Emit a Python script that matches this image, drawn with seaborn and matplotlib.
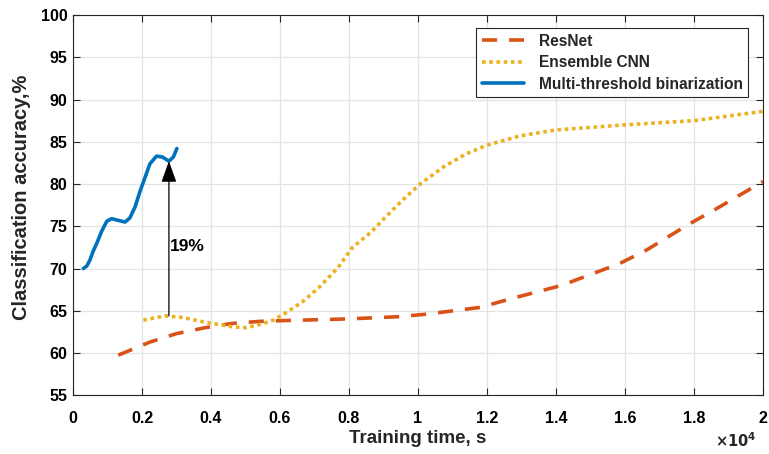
import numpy as np
import pandas as pd
import matplotlib
matplotlib.use("Agg")
import matplotlib.pyplot as plt
import seaborn as sns

# ---- data (seconds, accuracy %) ----
resnet_x = [1310, 2230, 3000, 3830, 4600, 5420, 6190, 7640, 8030, 9430, 10250, 11020,
            11800, 12760, 14160, 15850, 16630, 17790, 18660, 20000]
resnet_y = [59.75, 61.3, 62.3, 63.0, 63.5, 63.75, 63.85, 64.0, 64.05, 64.3, 64.6, 65.0,
            65.4, 66.5, 68.0, 70.6, 72.2, 75.1, 77.1, 80.3]

ens_x = [2040, 2670, 3200, 3880, 4650, 5030, 5520, 5810, 6170, 6680, 7140, 7680, 8100,
         8640, 9060, 9630, 10080, 10730, 11410, 12000, 12960, 14000, 16000, 18000, 20000]
ens_y = [63.9, 64.4, 64.2, 63.6, 63.1, 63.0, 63.5, 63.9, 64.76, 66.15, 67.8, 70.1, 72.5,
         74.3, 76.1, 78.4, 80.06, 82.0, 83.6, 84.6, 85.7, 86.4, 87.0, 87.5, 88.6]

mtb_x = [300, 400, 490, 590, 690, 830, 980, 1120, 1310, 1510, 1650, 1800, 1940, 2090,
         2230, 2420, 2590, 2780, 2910, 3010]
mtb_y = [70.0, 70.3, 71.0, 72.1, 73.0, 74.4, 75.6, 75.9, 75.7, 75.5, 76.0, 77.3, 79.1,
         80.8, 82.4, 83.3, 83.2, 82.7, 83.2, 84.2]

x_ticks = [0, 2000, 4000, 6000, 8000, 10000, 12000, 14000, 16000, 18000, 20000]
x_tick_labels = ["0", "0.2", "0.4", "0.6", "0.8", "1", "1.2", "1.4", "1.6", "1.8", "2"]
y_ticks = [55, 60, 65, 70, 75, 80, 85, 90, 95, 100]

arrow_x = 2780
arrow_from = 64.4
arrow_to = 82.7
arrow_label = "19%"

sns.set_theme(style="white")
plt.rcParams["font.family"] = ["Liberation Sans", "DejaVu Sans"]
plt.rcParams["font.weight"] = "bold"

fig = plt.figure(figsize=(7.69, 4.54), dpi=100)
ax = fig.add_axes([73 / 769, 1 - 395.3 / 454, 690 / 769, (395.3 - 15) / 454])

c_res = "#D95319"
c_ens = "#EDB120"
c_mtb = "#0072BD"

df_r = pd.DataFrame({"x": resnet_x, "y": resnet_y})
df_e = pd.DataFrame({"x": ens_x, "y": ens_y})
df_m = pd.DataFrame({"x": mtb_x, "y": mtb_y})

sns.lineplot(data=df_r, x="x", y="y", ax=ax, color=c_res, lw=2.6, sort=False,
             label="ResNet")
ax.lines[-1].set_dashes((4.2, 3.3))
sns.lineplot(data=df_e, x="x", y="y", ax=ax, color=c_ens, lw=2.6, sort=False,
             label="Ensemble CNN")
ax.lines[-1].set_dashes((1.0, 1.0))
sns.lineplot(data=df_m, x="x", y="y", ax=ax, color=c_mtb, lw=2.6, sort=False,
             label="Multi-threshold binarization")
for ln in ax.lines:
    ln.set_solid_joinstyle("round")
    ln.set_solid_capstyle("round")

ax.annotate("", xy=(arrow_x, arrow_to), xytext=(arrow_x, arrow_from),
            arrowprops=dict(arrowstyle="-|>,head_length=1.0,head_width=0.36",
                            color="black", lw=0.9, mutation_scale=13,
                            shrinkA=0, shrinkB=0))
ax.text(arrow_x + 40, 72.6, arrow_label, fontsize=12.5, fontweight="bold",
        va="center", ha="left", color="black")

ax.set_xlim(0, 20000)
ax.set_ylim(55, 100)
ax.set_xticks(x_ticks)
ax.set_xticklabels(x_tick_labels)
ax.set_yticks(y_ticks)
ax.grid(True, color="#e3e3e3", lw=0.9)
ax.set_axisbelow(True)
for s in ax.spines.values():
    s.set_visible(True)
    s.set_color("#262626")
    s.set_linewidth(0.8)
ax.tick_params(direction="in", length=5, width=0.8, color="#262626",
               top=True, right=True, bottom=True, left=True,
               labelsize=11.5, labelcolor="black")
ax.tick_params(axis="x", pad=11)
ax.tick_params(axis="y", pad=4)
for lab in ax.get_xticklabels() + ax.get_yticklabels():
    lab.set_fontweight("bold")

ax.set_xlabel("Training time, s", fontsize=13.5, fontweight="bold")
ax.xaxis.set_label_coords(0.5, -(430 - 395.3) / 380.3)
ax.set_ylabel("Classification accuracy,%", fontsize=14.5, fontweight="bold")
ax.yaxis.set_label_coords(-(73 - 31) / 690, 0.52)

fig.text(736 / 769, 1 - 441 / 454, r"$\times\mathbf{10^{4}}$", fontsize=10.5,
         ha="center", va="center")

leg = ax.legend(loc="upper right", bbox_to_anchor=(748 / 769, 1 - 28.3 / 454),
                bbox_transform=fig.transFigure,
                frameon=True, fancybox=False, prop=dict(size=11.2, weight="bold"),
                handlelength=2.7, borderpad=0.35, labelspacing=0.42,
                handletextpad=0.95, borderaxespad=0, framealpha=1)
leg.get_frame().set_edgecolor("#262626")
leg.get_frame().set_linewidth(0.8)

fig.savefig("out.png", dpi=100)
